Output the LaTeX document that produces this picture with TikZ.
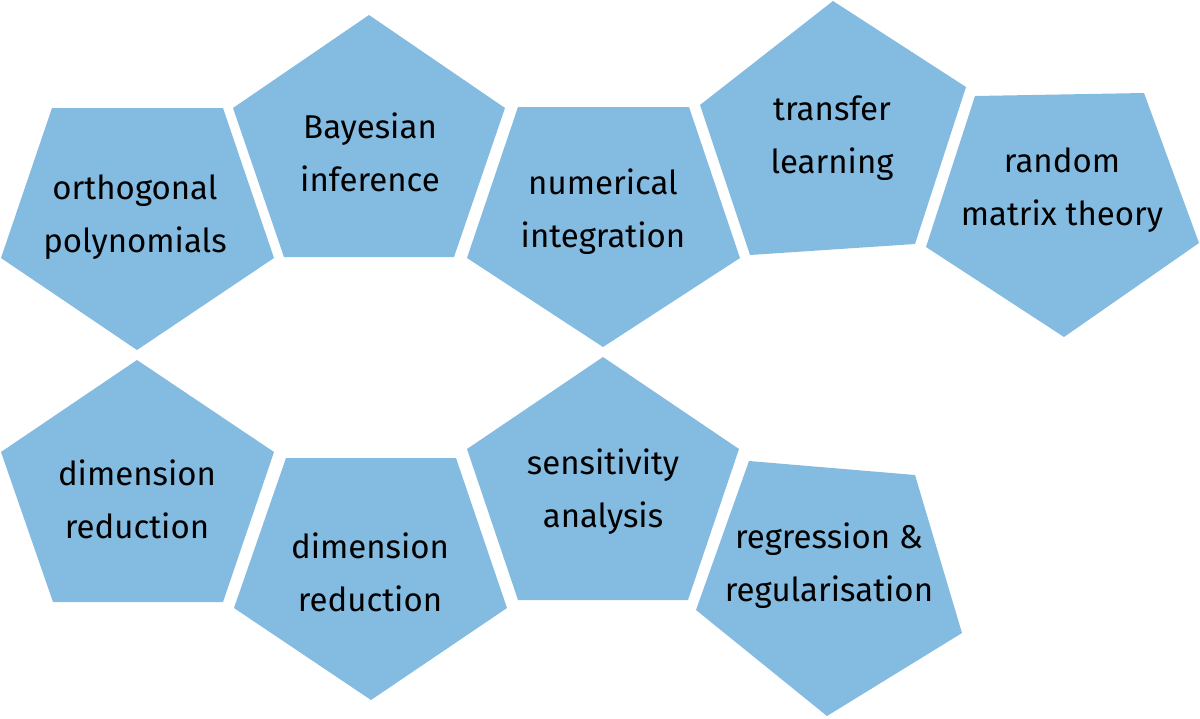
\documentclass[tikz,border=0pt]{standalone}
\usepackage{fontspec}
\setmainfont{Fira Sans}
\definecolor{pentblue}{RGB}{132,187,225}
\tikzset{
  pent/.style={fill=pentblue, draw=none},
  lbl/.style={align=center, text=black, inner sep=0pt, font=\fontsize{33}{53}\selectfont}
}
\begin{document}
\begin{tikzpicture}[x=1pt,y=-1pt]
\useasboundingbox (0,0) rectangle (1200,718);
% top row
\path[pent] (52,108) -- (223,108) -- (274,258) -- (137,350) -- (1,258) -- cycle;
\path[pent] (369,15) -- (505,108) -- (454,257) -- (284,257) -- (233,108) -- cycle;
\path[pent] (518,107) -- (689,107) -- (740,258) -- (603,347) -- (467,258) -- cycle;
\path[pent] (833,1) -- (966,87) -- (915,244) -- (750,255) -- (700,105) -- cycle;
\path[pent] (975,96) -- (1144,93) -- (1199,243) -- (1064,337) -- (926,247) -- cycle;
% bottom row
\path[pent] (137,360) -- (274,452) -- (223,602) -- (53,602) -- (1,452) -- cycle;
\path[pent] (286,458) -- (456,458) -- (507,608) -- (371,700) -- (234,608) -- cycle;
\path[pent] (603,357) -- (739,449) -- (688,600) -- (518,600) -- (467,449) -- cycle;
\path[pent] (749,461) -- (915,475) -- (962,633) -- (827,716) -- (696,610) -- cycle;
% labels
\node[lbl] (orth) at (135,217) {orthogonal\\polynomials};
\node[lbl] (bayes) at (370,152) {Bayesian\\inference};
\node[lbl] (numint) at (603,212) {numerical\\integration};
\node[lbl] (transfer) at (832,138) {transfer\\learning};
\node[lbl] (rmt) at (1062,190) {random\\matrix theory};
\node[lbl] (dimred1) at (137,499) {dimension\\reduction};
\node[lbl] (dimred2) at (370,572) {dimension\\reduction};
\node[lbl] (sens) at (603,492) {sensitivity\\analysis};
\node[lbl] (regr) at (829,566) {regression \&\\regularisation};
\end{tikzpicture}
\end{document}
